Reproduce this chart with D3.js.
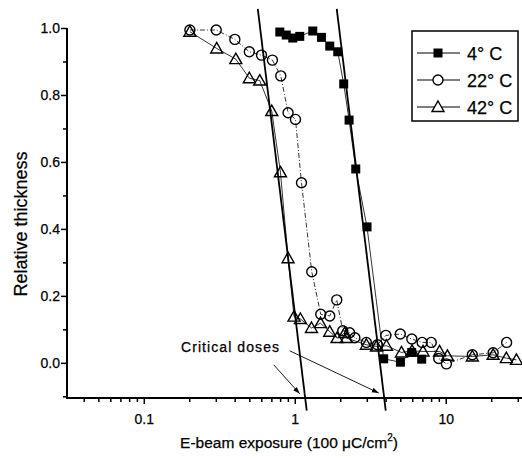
<!DOCTYPE html>
<html><head><meta charset="utf-8">
<script src="https://cdn.jsdelivr.net/npm/d3@7"></script>
<style>
body{margin:0;background:#fff;}
text{font-family:"Liberation Sans",Arial,Helvetica,sans-serif;fill:#000;stroke:#000;stroke-width:0.25px;}
</style></head>
<body><svg id="c" width="522" height="458"></svg>
<script>
// ---- data ----
const dose4  = [0.796,0.878,0.970,1.079,1.316,1.502,1.705,1.926,2.11,2.29,2.535,3.01,3.88,5.01,5.95,6.93];
const thick4 = [0.988,0.979,0.970,0.975,0.991,0.972,0.946,0.929,0.833,0.725,0.579,0.406,0.012,0.002,0.031,0.011];

const dose22  = [0.202,0.302,0.401,0.50,0.602,0.711,0.808,0.903,1.011,1.108,1.296,1.486,1.705,1.897,2.08,2.31,2.50,2.98,3.53,4.01,5.0,5.96,6.98,8.02,8.99,10.1,15.0,20.6,25.3];
const thick22 = [0.994,0.994,0.966,0.929,0.919,0.904,0.857,0.747,0.727,0.538,0.272,0.145,0.140,0.188,0.096,0.090,0.075,0.061,0.054,0.082,0.086,0.071,0.061,0.061,0.013,-0.003,0.024,0.030,0.061];

const dose42  = [0.202,0.304,0.407,0.50,0.586,0.704,0.804,0.903,0.989,1.09,1.29,1.48,1.705,1.906,2.14,2.2,2.98,3.48,4.05,5.09,5.98,7.07,9.1,10.26,15.0,20.6,25.2,29.4];
const thick42 = [0.989,0.939,0.907,0.850,0.843,0.752,0.569,0.3125,0.138,0.131,0.104,0.1185,0.093,0.074,0.089,0.074,0.054,0.049,0.051,0.031,0.036,0.034,0.034,0.021,0.019,0.024,0.014,0.009];

// critical dose fit lines: [x1,y1,x2,y2] in data units
const fitLow  = [0.569, 1.057, 1.20, -0.143];
const fitHigh = [1.897, 1.057, 4.005, -0.143];

const yMajor = [0.0,0.2,0.4,0.6,0.8,1.0];
const yMinor = [-0.1,0.1,0.3,0.5,0.7,0.9];
const xMajor = [0.1,1,10];
const xMajorLabels = ["0.1","1","10"];
const xMinor = [0.04,0.05,0.06,0.07,0.08,0.09,0.2,0.3,0.4,0.5,0.6,0.7,0.8,0.9,2,3,4,5,6,7,8,9,20,30];

const legendLabels = ["4° C","22° C","42° C"];
const annotation = "Critical doses";
const arrowTargets = [[1.079,-0.0925],[3.6,-0.090]];
const arrowSources = [[0.726,-0.006],[0.925,0.036]];

// ---- chart ----
const svg = d3.select("#c");
const x = d3.scaleLog().domain([0.031, 32]).range([67, 522]);
const y = d3.scaleLinear().domain([-0.105, 1.0]).range([398, 28]);

svg.append("defs").append("marker").attr("id","ah").attr("viewBox","0 0 10 10")
  .attr("refX",10).attr("refY",5).attr("markerWidth",7).attr("markerHeight",7)
  .attr("orient","auto").attr("markerUnits","userSpaceOnUse")
  .append("path").attr("d","M0,1.5 L10,5 L0,8.5 Z").attr("fill","#000");

// axes
const gy = svg.append("g").attr("transform","translate(67,0)");
gy.call(d3.axisLeft(y).tickValues(yMajor).tickSize(6).tickFormat(d3.format(".1f")));
gy.append("g").call(d3.axisLeft(y).tickValues(yMinor).tickSize(4).tickFormat(""))
  .select(".domain").remove();
gy.selectAll(".domain").attr("stroke-width",2).attr("d","M0,"+y(1.0)+"V"+398);
gy.selectAll(".tick line").attr("stroke-width",1.5);
gy.selectAll("text").attr("font-size",14).attr("x",-7);

const gx = svg.append("g").attr("transform","translate(0,398)");
gx.call(d3.axisBottom(x).tickValues(xMajor).tickSize(6).tickFormat((d,i)=>xMajorLabels[i]));
gx.append("g").call(d3.axisBottom(x).tickValues(xMinor).tickSize(4).tickFormat(""))
  .select(".domain").remove();
gx.selectAll(".domain").attr("stroke-width",2).attr("d","M66,0H522");
gx.selectAll(".tick line").attr("stroke-width",1.5);
gx.selectAll("text").attr("font-size",14).attr("dy","1.2em");

// axis titles
svg.append("text").attr("transform","translate(27,224) rotate(-90)").attr("text-anchor","middle")
  .attr("font-size",18).text("Relative thickness");
const xt = svg.append("text").attr("x",289).attr("y",448).attr("text-anchor","middle").attr("font-size",15.5);
xt.append("tspan").text("E-beam exposure (100 μC/cm");
xt.append("tspan").attr("font-size",10).attr("dy",-7).text("2");
xt.append("tspan").attr("dy",7).text(")");

// fit lines
[fitLow, fitHigh].forEach(f=>{
  svg.append("line").attr("x1",x(f[0])).attr("y1",y(f[1])).attr("x2",x(f[2])).attr("y2",y(f[3]))
    .attr("stroke","#000").attr("stroke-width",1.8);
});

// series
const line = d3.line().x(d=>x(d[0])).y(d=>y(d[1]));
const s4 = dose4.map((d,i)=>[d,thick4[i]]);
const s22 = dose22.map((d,i)=>[d,thick22[i]]);
const s42 = dose42.map((d,i)=>[d,thick42[i]]);

svg.append("path").attr("d",line(s42)).attr("fill","none").attr("stroke","#000").attr("stroke-width",0.8);
svg.append("path").attr("d",line(s22)).attr("fill","none").attr("stroke","#000").attr("stroke-width",0.8).attr("stroke-dasharray","5,2,1,2");
svg.append("path").attr("d",line(s4)).attr("fill","none").attr("stroke","#000").attr("stroke-width",0.8);

const tri = "M0,-6 L6,4.5 L-6,4.5 Z";
function drawMarker(g, type, px, py){
  if(type==="sq") g.append("rect").attr("x",px-4.5).attr("y",py-4.5).attr("width",9).attr("height",9).attr("fill","#000");
  else if(type==="ci") g.append("circle").attr("cx",px).attr("cy",py).attr("r",5).attr("fill","none").attr("stroke","#000").attr("stroke-width",1.4);
  else g.append("path").attr("d",tri).attr("transform",`translate(${px},${py})`).attr("fill","none").attr("stroke","#000").attr("stroke-width",1.4);
}
const gm = svg.append("g");
s42.forEach(d=>drawMarker(gm,"tr",x(d[0]),y(d[1])));
s22.forEach(d=>drawMarker(gm,"ci",x(d[0]),y(d[1])));
s4.forEach(d=>drawMarker(gm,"sq",x(d[0]),y(d[1])));

// annotation
svg.append("text").attr("x",181).attr("y",352).attr("font-size",14)
  .attr("textLength",98).attr("lengthAdjust","spacing").text(annotation);
arrowTargets.forEach((t,i)=>{
  const s = arrowSources[i];
  svg.append("line").attr("x1",x(s[0])).attr("y1",y(s[1])).attr("x2",x(t[0])).attr("y2",y(t[1]))
    .attr("stroke","#000").attr("stroke-width",0.9).attr("marker-end","url(#ah)");
});

// legend
const lg = svg.append("g");
lg.append("rect").attr("x",412).attr("y",31).attr("width",106).attr("height",90)
  .attr("fill","#fff").attr("stroke","#000").attr("stroke-width",1.5);
["sq","ci","tr"].forEach((t,i)=>{
  const yy = 53 + i*27;
  lg.append("line").attr("x1",417).attr("x2",460).attr("y1",yy).attr("y2",yy).attr("stroke","#000").attr("stroke-width",1);
  if(t==="ci") lg.append("circle").attr("cx",438).attr("cy",yy).attr("r",5).attr("fill","#fff").attr("stroke","#000").attr("stroke-width",1.4);
  else if(t==="tr") lg.append("path").attr("d",tri).attr("transform",`translate(438,${yy})`).attr("fill","#fff").attr("stroke","#000").attr("stroke-width",1.4);
  else drawMarker(lg,t,438,yy);
  lg.append("text").attr("x",467).attr("y",yy+6.5).attr("font-size",18).text(legendLabels[i]);
});
</script></body></html>
